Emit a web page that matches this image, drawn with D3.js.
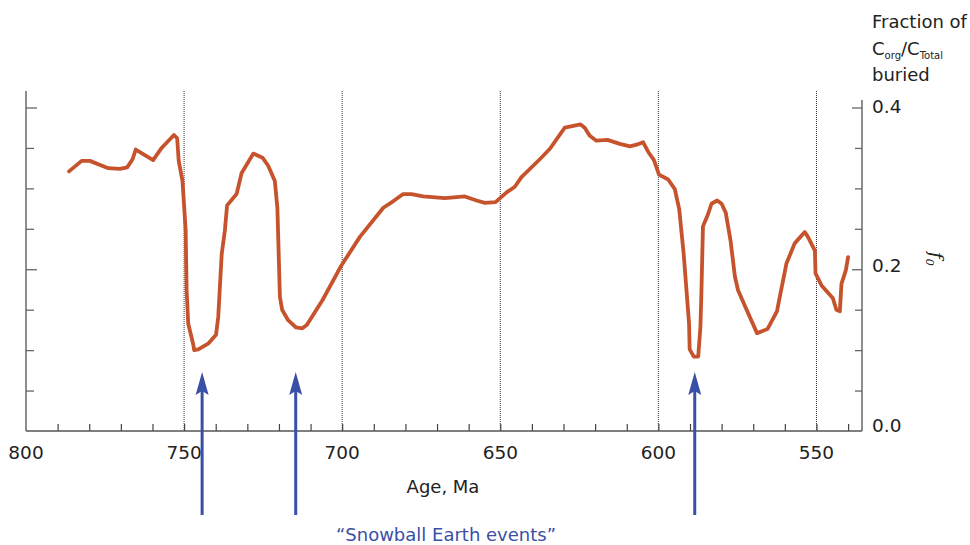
<!DOCTYPE html>
<html>
<head>
<meta charset="utf-8">
<script src="https://cdn.jsdelivr.net/npm/d3@7"></script>
<style>
  body { margin: 0; background: #fff; }
  svg { display: block; font-family: "DejaVu Sans", Verdana, sans-serif; }
</style>
</head>
<body>
<svg id="chart" width="970" height="545"></svg>
<script>
// age (Ma) and fraction of Corg/Ctotal buried
const ages = [
  786.4, 782.4, 779.8, 774.0, 770.3, 768.0, 766.3, 765.3, 759.8, 757.1,
  753.2, 752.2, 751.7, 750.5, 749.5, 749.2, 748.7, 747.1, 746.8, 745.5,
  742.4, 739.9, 739.2, 738.1, 737.1, 736.4, 733.4, 731.8, 728.1, 725.2,
  723.4, 721.3, 720.5, 719.7, 719.0, 717.1, 714.6, 712.6, 711.2, 706.2,
  700.2, 694.4, 687.0, 683.9, 680.7, 678.1, 674.4, 667.5, 661.2, 657.5,
  654.9, 651.5, 648.0, 645.4, 643.3, 637.5, 634.3, 629.6, 624.6, 623.3,
  621.7, 619.6, 616.1, 612.2, 609.0, 606.9, 604.8, 603.2, 601.4, 599.8,
  596.9, 594.8, 593.4, 592.0, 590.3, 590.1, 588.8, 587.4, 586.7, 586.4,
  585.9, 584.3, 583.2, 581.4, 580.0, 578.7, 577.2, 575.8, 574.8, 572.1,
  568.8, 565.5, 562.5, 561.4, 559.5, 556.9, 553.7, 552.7, 550.5, 550.3,
  548.4, 544.8, 543.7, 542.6, 542.1, 540.7, 540.0
];
const fractions = [
  0.321, 0.334, 0.334, 0.325, 0.324, 0.326, 0.336, 0.348, 0.335, 0.350,
  0.366, 0.362, 0.334, 0.309, 0.248, 0.174, 0.133, 0.107, 0.100, 0.101,
  0.108, 0.119, 0.141, 0.219, 0.248, 0.279, 0.293, 0.319, 0.343, 0.338,
  0.328, 0.309, 0.276, 0.166, 0.150, 0.137, 0.128, 0.127, 0.131, 0.162,
  0.205, 0.240, 0.276, 0.284, 0.293, 0.293, 0.290, 0.288, 0.290, 0.285,
  0.282, 0.283, 0.295, 0.302, 0.314, 0.336, 0.349, 0.375, 0.379, 0.375,
  0.365, 0.359, 0.360, 0.355, 0.352, 0.354, 0.357, 0.345, 0.335, 0.317,
  0.311, 0.299, 0.274, 0.219, 0.133, 0.101, 0.092, 0.092, 0.129, 0.170,
  0.253, 0.268, 0.281, 0.285, 0.281, 0.270, 0.236, 0.191, 0.174, 0.150,
  0.121, 0.126, 0.148, 0.170, 0.207, 0.232, 0.246, 0.240, 0.223, 0.195,
  0.180, 0.164, 0.150, 0.148, 0.182, 0.199, 0.215
];
const xTicks = [800, 750, 700, 650, 600, 550];
const yTickLabels = ["0.0", "0.2", "0.4"];
const snowballAges = [744.3, 714.7, 588.5];

const data = ages.map((a, i) => ({ age: a, f: fractions[i] }));

const svg = d3.select("#chart");
const margin = { left: 26, right: 862, top: 91, bottom: 431 };

const x = d3.scaleLinear().domain([800, 535.6]).range([margin.left, margin.right]);
const y = d3.scaleLinear().domain([0, 0.4]).range([margin.bottom, 107.5]);

const axisColor = "#666";
const blue = "#3a4fa6";
const isMajor = d => Math.abs(d - 0.2) < 1e-6 || Math.abs(d - 0.4) < 1e-6;

// dotted gridlines at the major ages
svg.append("g")
  .selectAll("line")
  .data(xTicks.slice(1))
  .join("line")
  .attr("x1", d => x(d)).attr("x2", d => x(d))
  .attr("y1", margin.top).attr("y2", margin.bottom)
  .attr("stroke", "#333")
  .attr("stroke-width", 1)
  .attr("stroke-dasharray", "1,1");

// bottom axis, ticks pointing up
const xAxis = svg.append("g")
  .attr("transform", `translate(0,${margin.bottom})`)
  .call(d3.axisBottom(x).tickValues(d3.range(790, 535, -10)).tickSize(-7).tickFormat(""));
xAxis.select(".domain").remove();
xAxis.selectAll("line").attr("stroke", "#444").attr("stroke-width", 1.2);

svg.append("g")
  .selectAll("text")
  .data(xTicks)
  .join("text")
  .attr("x", d => x(d))
  .attr("y", 459)
  .attr("text-anchor", "middle")
  .attr("font-size", 18.5)
  .attr("fill", "#222")
  .text(d => d);

// left axis, ticks pointing right
const yAxisL = svg.append("g")
  .attr("transform", `translate(${margin.left},0)`)
  .call(d3.axisRight(y).tickValues(d3.range(0.05, 0.41, 0.05)).tickSize(8).tickFormat(""));
yAxisL.select(".domain").remove();
yAxisL.selectAll("line")
  .attr("stroke", axisColor).attr("stroke-width", 1.3)
  .attr("x2", d => isMajor(d) ? 11 : 8);

// right axis, ticks pointing left
const yAxisR = svg.append("g")
  .attr("transform", `translate(${margin.right},0)`)
  .call(d3.axisLeft(y).tickValues(d3.range(0.05, 0.41, 0.05)).tickSize(7).tickFormat(""));
yAxisR.select(".domain").remove();
yAxisR.selectAll("line")
  .attr("stroke", axisColor).attr("stroke-width", 1.3)
  .attr("x2", d => isMajor(d) ? -10 : -7);

// frame lines
svg.append("line").attr("x1", margin.left).attr("x2", margin.left)
  .attr("y1", margin.top).attr("y2", margin.bottom)
  .attr("stroke", axisColor).attr("stroke-width", 1.5);
svg.append("line").attr("x1", margin.right).attr("x2", margin.right)
  .attr("y1", 100).attr("y2", margin.bottom)
  .attr("stroke", axisColor).attr("stroke-width", 1.5);
svg.append("line").attr("x1", margin.left).attr("x2", margin.right)
  .attr("y1", margin.bottom).attr("y2", margin.bottom)
  .attr("stroke", "#555").attr("stroke-width", 1.5);

// right-hand value labels (the 0.0 label sits up against the axis)
svg.append("g")
  .selectAll("text")
  .data(yTickLabels)
  .join("text")
  .attr("x", 872)
  .attr("y", d => y(+d) + (+d === 0 ? 1 : +d === 0.2 ? 2.5 : 5.5))
  .attr("font-size", 18.5)
  .attr("fill", "#222")
  .text(d => d);

// the curve
const line = d3.line().x(d => x(d.age)).y(d => y(d.f));
svg.append("path")
  .datum(data)
  .attr("d", line)
  .attr("fill", "none")
  .attr("stroke", "#c6532c")
  .attr("stroke-width", 3.8)
  .attr("stroke-linejoin", "round")
  .attr("stroke-linecap", "round");

// axis titles
svg.append("text")
  .attr("x", 443).attr("y", 493)
  .attr("text-anchor", "middle")
  .attr("font-size", 18).attr("fill", "#222")
  .text("Age, Ma");

const title = svg.append("g").attr("font-size", 18).attr("fill", "#222");
title.append("text").attr("x", 872).attr("y", 28).text("Fraction of");
const t2 = title.append("text").attr("x", 872).attr("y", 55);
t2.append("tspan").text("C");
t2.append("tspan").attr("font-size", 10).attr("dy", 4).text("org");
t2.append("tspan").attr("dy", -4).text("/C");
t2.append("tspan").attr("font-size", 10).attr("dy", 4).text("Total");
title.append("text").attr("x", 872).attr("y", 81).text("buried");

const fLabel = svg.append("text")
  .attr("transform", "translate(930,252) rotate(90)")
  .attr("font-family", "'DejaVu Serif', serif")
  .attr("font-style", "italic")
  .attr("font-size", 18)
  .attr("fill", "#222");
fLabel.append("tspan").text("f");
fLabel.append("tspan").attr("font-size", 11).attr("dy", 4).text("0");

// Snowball Earth arrows
const arrows = svg.append("g").attr("fill", blue).attr("stroke", blue);
snowballAges.forEach(a => {
  const ax = x(a);
  arrows.append("line")
    .attr("x1", ax).attr("x2", ax)
    .attr("y1", 515).attr("y2", 390)
    .attr("stroke-width", 3);
  arrows.append("path")
    .attr("d", `M${ax},372 L${ax + 6.5},395 L${ax},391 L${ax - 6.5},395 Z`)
    .attr("stroke", "none");
});

svg.append("text")
  .attr("x", 446).attr("y", 541)
  .attr("text-anchor", "middle")
  .attr("font-size", 18)
  .attr("fill", blue)
  .text("\u201CSnowball Earth events\u201D");
</script>
</body>
</html>
